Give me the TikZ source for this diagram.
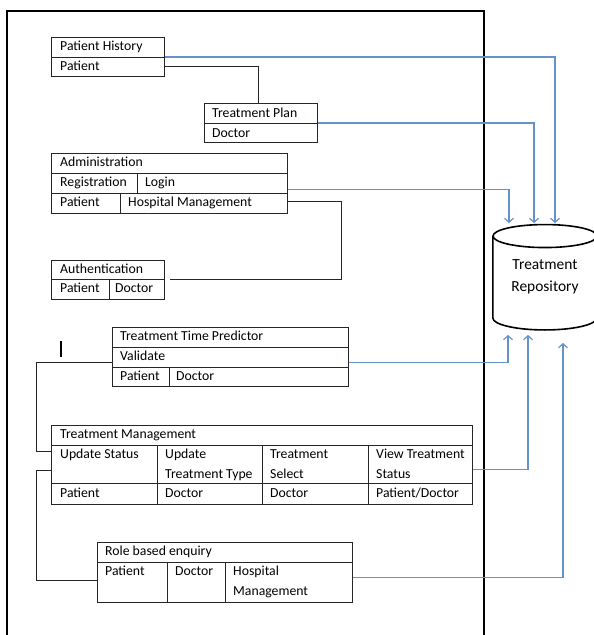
\documentclass[tikz,border=0pt]{standalone}
\usepackage{fontspec}
\setmainfont{Carlito}
\usetikzlibrary{arrows.meta,calc}
\definecolor{linkblue}{RGB}{102,146,204}

\begin{document}
\begin{tikzpicture}[
  x=1bp, y=-1bp,
  font=\fontsize{13.8}{15}\selectfont,
  tbl/.style={
    rectangle,
    draw=black!85,
    line width=0.9bp,
    inner sep=0pt,
    anchor=north west
  },
  cell/.style={anchor=base west, inner sep=0pt},
  rule/.style={draw=black!85, line width=0.9bp},
  wire/.style={draw=black!85, line width=1bp},
  link/.style={draw=linkblue, line width=1.2bp, -{Straight Barb[length=4bp,width=9bp]}},
  repobox/.style={
    align=center,
    inner sep=0pt,
    minimum width=104bp,
    minimum height=81.5bp,
    font=\fontsize{15.5}{22}\selectfont
  }
]
\useasboundingbox (0,0) rectangle (594,635);
\fill[white] (0,0) rectangle (594,635);

% system frame
\draw[line width=1.6bp] (7,645) -- (7,11) -- (484,11) -- (484,645);
\draw[line width=1.6bp] (61,341) -- (61,357);

% tables
\node[tbl, minimum width=113bp, minimum height=39bp] (ph) at (51,37) {};
\draw[rule] (51,57) -- (164,57);
\node[cell] (ph-a) at (60,50.5) {Patient History};
\node[cell] (ph-b) at (60,70.5) {Patient};

\node[tbl, minimum width=113bp, minimum height=39bp] (tp) at (204,103) {};
\draw[rule] (204,123) -- (317,123);
\node[cell] (tp-a) at (212,118) {Treatment Plan};
\node[cell] (tp-b) at (212,137.5) {Doctor};

\node[tbl, minimum width=236bp, minimum height=60bp] (adm) at (51,153) {};
\draw[rule] (51,173) -- (287,173);
\draw[rule] (51,193) -- (287,193);
\draw[rule] (137,173) -- (137,193);
\draw[rule] (120,193) -- (120,213);
\node[cell] (adm-a) at (60,166.5) {Administration};
\node[cell] (adm-b) at (60,186.5) {Registration};
\node[cell] (adm-c) at (145,186.5) {Login};
\node[cell] (adm-d) at (60,206.5) {Patient};
\node[cell] (adm-e) at (128,206.5) {Hospital Management};

\node[tbl, minimum width=113bp, minimum height=39bp] (auth) at (51,260) {};
\draw[rule] (51,279) -- (164,279);
\draw[rule] (109,279) -- (109,299);
\node[cell] (auth-a) at (60,273.5) {Authentication};
\node[cell] (auth-b) at (60,292.5) {Patient};
\node[cell] (auth-c) at (115,292.5) {Doctor};

\node[tbl, minimum width=236bp, minimum height=59bp] (ttp) at (112,327) {};
\draw[rule] (112,347) -- (348,347);
\draw[rule] (112,367) -- (348,367);
\draw[rule] (169,367) -- (169,386);
\node[cell] (ttp-a) at (120,340.5) {Treatment Time Predictor};
\node[cell] (ttp-b) at (120,360.5) {Validate};
\node[cell] (ttp-c) at (120,380.5) {Patient};
\node[cell] (ttp-d) at (176,380.5) {Doctor};

\node[tbl, minimum width=421bp, minimum height=79bp] (tm) at (51,425) {};
\draw[rule] (51,445) -- (472,445);
\draw[rule] (51,483) -- (472,483);
\foreach \cx in {157,262,368}
  \draw[rule] (\cx,445) -- (\cx,504);
\node[cell] (tm-a) at (60,438.5) {Treatment Management};
\node[cell] (tm-b) at (60,458.5) {Update Status};
\node[cell] (tm-c) at (165,458.5) {Update};
\node[cell] (tm-d) at (165,478.5) {Treatment Type};
\node[cell] (tm-e) at (270,458.5) {Treatment};
\node[cell] (tm-f) at (270,478.5) {Select};
\node[cell] (tm-g) at (376,458.5) {View Treatment};
\node[cell] (tm-h) at (376,478.5) {Status};
\node[cell] (tm-i) at (60,497) {Patient};
\node[cell] (tm-j) at (165,497) {Doctor};
\node[cell] (tm-k) at (270,497) {Doctor};
\node[cell] (tm-l) at (376,497) {Patient/Doctor};

\node[tbl, minimum width=255bp, minimum height=60bp] (rbe) at (97,542) {};
\draw[rule] (97,562) -- (352,562);
\draw[rule] (167,562) -- (167,602);
\draw[rule] (225,562) -- (225,602);
\node[cell] (rbe-a) at (105,555.5) {Role based enquiry};
\node[cell] (rbe-b) at (105,575.5) {Patient};
\node[cell] (rbe-c) at (175,575.5) {Doctor};
\node[cell] (rbe-d) at (233,575.5) {Hospital};
\node[cell] (rbe-e) at (233,595.5) {Management};

% repository
\node[repobox] (repo) at (545,277) {Treatment\\Repository};
\draw[line width=1.6bp] (repo.north) ellipse [x radius=52, y radius=11.5];
\draw[line width=1.6bp] (repo.north west) -- (repo.south west)
  arc [start angle=180, end angle=0, x radius=52, y radius=12] -- (repo.north east);

% black links between modules
\draw[wire] ($(ph.south east)+(0,-10)$) -| ([xshift=-2bp]tp.north);
\draw[wire] ($(adm.south east)+(0,-12)$) -- ++(54,0) |- ([xshift=5bp]auth.east);
\draw[wire] ($(ttp.west)+(0,5.5)$) -- ++(-76,0) |- ($(tm.north west)+(0,26)$);
\draw[wire] ($(tm.north west)+(0,45)$) -- ++(-15,0) |- ($(rbe.north west)+(0,38)$);

% data flows to repository
\draw[link] (ph.east) -| ($(repo.north)+(10,-13)$);
\draw[link] (tp.east) -| ($(repo.north)+(-11,-13)$);
\draw[link] ($(adm.east)+(0,6)$) -| ($(repo.north)+(-36,-13)$);
\draw[link] ($(ttp.east)+(0,5.5)$) -| ($(repo.south)+(-37,17)$);
\draw[link] ($(tm.east)+(0,4.5)$) -| ($(repo.south)+(-17,17)$);
\draw[link] ($(rbe.east)+(0,5)$) -| ($(repo.south)+(18,25)$);

\end{tikzpicture}
\end{document}
